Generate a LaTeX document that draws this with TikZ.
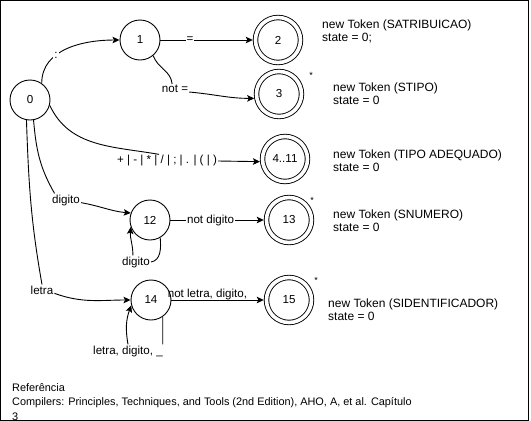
\documentclass[tikz,border=0pt]{standalone}
\usepackage{fontspec}
\setmainfont{Liberation Sans}
\usetikzlibrary{arrows.meta}
\definecolor{ink}{HTML}{000000}
\newcommand{\dfsize}{\fontsize{11.6}{13}\selectfont}
\newcommand{\tksize}{\fontsize{12}{13}\selectfont}

\begin{document}
\begin{tikzpicture}[x=1pt, y=-1pt,
  state/.style={circle, draw=ink, line width=0.9pt, minimum size=40pt, inner sep=0pt, font=\dfsize},
  accept/.style={circle, draw=ink, line width=0.9pt, double, double distance=3.6pt,
    minimum size=45pt, inner sep=0pt, outer sep=2.7pt, font=\dfsize},
  trans/.style={draw=ink, line width=0.9pt, -{Stealth[length=7pt, width=6.5pt, inset=1.5pt]}},
  lbl/.style={font=\dfsize, inner sep=1pt},
  lblon/.style={lbl, fill=white},
  tok/.style={font=\tksize, align=left, anchor=west, inner sep=0pt},
  starlbl/.style={font=\fontsize{9}{9}\selectfont, inner sep=0pt}]
  \useasboundingbox (0,0) rectangle (531,421);

  % States
  \foreach \n/\x/\y in {0/30/100, 1/140/40, 12/150/220, 14/151/300}
    \node[state] (n\n) at (\x,\y) {\n};
  \foreach \n/\x/\y/\t in {2/278/40/{2}, 3/279/94/{3}, 411/285/159/{4..11}, 13/289/220/{13}, 15/289/300/{15}}
    \node[accept] (n\n) at (\x,\y) {\t};

  % Retract marks
  \foreach \s/\x/\y in {3/311/75, 13/312/200, 15/316/280}
    \node[starlbl] (star\s) at (\x,\y) {*};

  % Edge labels off the line
  \node[lbl] (lblNotEq) at (175,89) {not =};
  \node[lbl] (lblOps) at (167,161) {+ | - | * | / | ; | . | ( | )};
  \node[lbl] (lblDig) at (66,200) {digito};
  \node[lbl] (lblDigLoop) at (136,262) {digito};
  \node[lbl] (lblLetra) at (42,290) {letra};
  \node[lbl] (lblLetraLoop) at (128,351) {letra, digito, \_};

  % Transitions
  \draw[trans] (n0.55) to[out=90, in=180] node[lblon, pos=0.36] (lblColon) {:} (n1);
  \draw[trans] (n1) -- node[lblon, pos=0.32] (lblEq) {=} (n2);
  \draw[trans] (n1.-50) to[out=-70, in=95] (lblNotEq.120)
    (lblNotEq.-12) to[out=-5, in=180] (n3.190);
  \draw[trans] (n0.-15) to[out=-65, in=170] ([xshift=-8pt]lblOps.north)
    (lblOps.east) -- (n411.186);
  \draw[trans] (n0.-80) to[out=-85, in=120] (lblDig.150)
    (lblDig.-10) to[out=-10, in=175] (n12.160);
  \draw[trans] (n12.-60) to[out=-85, in=10] (lblDigLoop.east)
    (lblDigLoop.115) to[out=90, in=-95] (n12.-160);
  \draw[trans] (n12) -- node[lblon, pos=0.43] (lblNotDig) {not digito} (n13);
  \draw[trans] (n0.-100) to[out=-88, in=100] (lblLetra.north)
    (lblLetra.-15) to[out=-20, in=180] (n14);
  \draw[trans] (n14.-55) -- (n14.-55 |- lblLetraLoop.north)
    (lblLetraLoop.north) to[out=100, in=-110] (n14.195);
  \draw[trans] (n14) -- node[lbl, pos=0.39, above, inner sep=0pt] (lblNotLet) {not letra, digito,} (n15);

  % Token actions
  \node[tok] (tok2) at (322,31) {new Token (SATRIBUICAO)\\state = 0;};
  \node[tok] (tok3) at (333,94) {new Token (STIPO)\\state = 0};
  \node[tok] (tok411) at (333,161) {new Token (TIPO ADEQUADO)\\state = 0};
  \node[tok] (tok13) at (333,221) {new Token (SNUMERO)\\state = 0};
  \node[tok] (tok15) at (328,310) {new Token (SIDENTIFICADOR)\\state = 0};

  % Reference
  \node[tok, anchor=north west, font=\fontsize{10.9}{14.5}\selectfont] (refText) at (12,383)
    {Referência\\Compilers: Principles, Techniques, and Tools (2nd Edition), AHO, A, et al. Capítulo\\3};

  % Frame
  \draw[ink, line width=1pt] (0.5,0.5) rectangle (528.7,420);
\end{tikzpicture}
\end{document}
